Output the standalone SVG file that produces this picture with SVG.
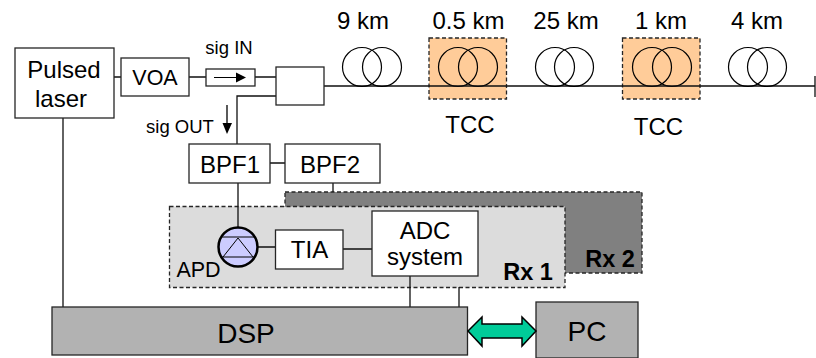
<svg xmlns="http://www.w3.org/2000/svg" width="816" height="358" viewBox="0 0 816 358">
<defs>
<style>
text{font-family:"Liberation Sans",Arial,sans-serif;fill:#000;text-anchor:middle}
.b{fill:#fff;stroke:#262626;stroke-width:1.3}
.g{fill:#b2b2b2;stroke:#262626;stroke-width:1.3}
.l{fill:none;stroke:#111;stroke-width:1.3}
.c{fill:none;stroke:#000;stroke-width:1.2}
.d{stroke:#262626;stroke-width:1.3;stroke-dasharray:4 2.5}
.t{font-size:24px}
.m{font-size:21.500px}
.h{font-size:28px}
.s{font-size:18.500px}
.r{font-size:23.500px;font-weight:bold}
</style>
</defs>
<g id="rx2"><rect class="d" x="285" y="192" width="357" height="81" fill="#808080"/><text class="r" x="610" y="267">Rx 2</text></g>
<g id="rx1"><rect class="d" x="169.500" y="206.500" width="395.500" height="81" fill="#dcdcdc"/><text class="r" x="528" y="280">Rx 1</text></g>
<g id="tcc1"><rect class="d" x="429" y="38" width="77.500" height="61" fill="#ffcc99"/><circle class="c" cx="458" cy="67" r="19.500"/><circle class="c" cx="478" cy="67" r="19.500"/><text class="t" x="468.500" y="29">0.5 km</text><text class="t" x="470" y="133">TCC</text></g>
<g id="tcc2"><rect class="d" x="622.500" y="38" width="77.500" height="61" fill="#ffcc99"/><circle class="c" cx="652" cy="67" r="19.500"/><circle class="c" cx="672" cy="67" r="19.500"/><text class="t" x="661" y="29">1 km</text><text class="t" x="658.500" y="135">TCC</text></g>
<g id="connectors">
<path class="l" d="M114 77H121M189 77H206M255 77H276M324 86H815M815 76V97M276 96H237V144M63 118V307M270 163H285M333 183V192M238 183V228M258 247H275.500M343 249H372M410 276V307M459 287V307"/>
</g>
<g id="laser"><rect class="b" x="15" y="48" width="99" height="70"/><text class="t" x="64" y="78">Pulsed</text><text class="t" x="61" y="107">laser</text></g>
<g id="voa"><rect class="b" x="121" y="58" width="68" height="38"/><text class="m" x="155" y="85">VOA</text></g>
<g id="isolator"><rect class="b" x="206" y="69" width="49" height="17"/><path d="M214 77.500H238" stroke="#000" stroke-width="1"/><path d="M236 72.500L246 77.500L236 82.500Z" fill="#000"/><text class="s" x="229" y="54">sig IN</text></g>
<g id="coupler"><rect class="b" x="276" y="67" width="48" height="38"/></g>
<g id="sigout"><text class="s" x="180" y="133">sig OUT</text><path d="M227 105V124" stroke="#000" stroke-width="1.300"/><path d="M222.500 123H232L227 134Z" fill="#000"/></g>
<g id="coil1"><circle class="c" cx="362" cy="67" r="19.500"/><circle class="c" cx="382" cy="67" r="19.500"/><text class="t" x="363" y="29">9 km</text></g>
<g id="coil3"><circle class="c" cx="555" cy="67" r="19.500"/><circle class="c" cx="574" cy="67" r="19.500"/><text class="t" x="566" y="29">25 km</text></g>
<g id="coil5"><circle class="c" cx="748" cy="67" r="19.500"/><circle class="c" cx="767" cy="67" r="19.500"/><text class="t" x="757" y="29">4 km</text></g>
<g id="bpf1"><rect class="b" x="189" y="144" width="81" height="39"/><text class="t" x="230" y="172.500">BPF1</text></g>
<g id="bpf2"><rect class="b" x="285" y="144" width="95" height="39"/><text class="t" x="330" y="172.500">BPF2</text></g>
<g id="apd"><circle cx="238" cy="247" r="19.500" fill="#ccccff" stroke="#000" stroke-width="2.500"/><path d="M222 237H254M222 257H254M238 238L223 257M238 238L253 257" fill="none" stroke="#000" stroke-width="1"/><text class="m" x="198.500" y="277">APD</text></g>
<g id="tia"><rect class="b" x="275.500" y="230" width="67.500" height="39"/><text class="t" x="309.500" y="258">TIA</text></g>
<g id="adc"><rect class="b" x="372" y="211" width="106" height="65"/><text class="t" x="425" y="239">ADC</text><text class="t" x="425" y="265">system</text></g>
<g id="dsp"><rect class="g" x="52" y="307" width="415.500" height="48"/><text class="h" x="246" y="342.500">DSP</text></g>
<g id="pc"><rect class="g" x="536" y="302" width="102" height="56"/><text class="h" x="587" y="341">PC</text></g>
<g id="link"><path d="M468 331L482 317V324H522V317L536 331L522 346V338H482V346Z" fill="#00cc99" stroke="#000" stroke-width="1.500"/></g>
</svg>
